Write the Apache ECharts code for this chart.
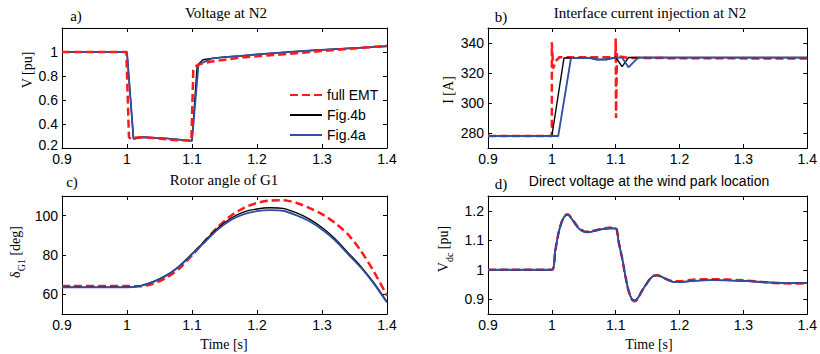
<!DOCTYPE html>
<html><head><meta charset="utf-8">
<script src="https://cdn.jsdelivr.net/npm/echarts@6/dist/echarts.min.js"></script>
<style>html,body{margin:0;padding:0;background:#fff}#c{width:820px;height:354px}</style>
</head><body><div id="c"></div>
<script>
// ---------- DATA ----------
var xTicks = [0.9, 1.0, 1.1, 1.2, 1.3, 1.4];

// a) Voltage at N2 [pu]
var aTimeRed   = [0.9, 0.999, 1.003, 1.006, 1.01, 1.02, 1.04, 1.06, 1.08, 1.099, 1.102, 1.106, 1.11, 1.12, 1.13, 1.15, 1.175, 1.2, 1.25, 1.29, 1.35, 1.4];
var aRed       = [1.0, 1.0, 0.29, 0.275, 0.285, 0.29, 0.283, 0.272, 0.265, 0.26, 0.85, 0.88, 0.895, 0.91, 0.92, 0.935, 0.954, 0.965, 0.985, 1.004, 1.03, 1.052];
var aTimeBlack = [0.9, 1.0, 1.01, 1.025, 1.06, 1.1, 1.108, 1.117, 1.13, 1.15, 1.175, 1.2, 1.25, 1.29, 1.35, 1.4];
var aBlack     = [1.0, 1.0, 0.276, 0.29, 0.28, 0.26, 0.89, 0.935, 0.947, 0.958, 0.967, 0.98, 1.0, 1.015, 1.033, 1.048];
var aTimeBlue  = [0.9, 1.0, 1.01, 1.025, 1.06, 1.1, 1.11, 1.12, 1.13, 1.15, 1.175, 1.2, 1.25, 1.29, 1.35, 1.4];
var aBlue      = [1.0, 1.0, 0.276, 0.29, 0.28, 0.26, 0.895, 0.92, 0.945, 0.958, 0.967, 0.98, 1.0, 1.015, 1.033, 1.048];
var aYTicks = [0.2, 0.4, 0.6, 0.8, 1.0];

// b) Interface current injection at N2 [A]
var bTimeRed   = [0.9, 1.0, 1.0, 1.002, 1.006, 1.012, 1.05, 1.0995, 1.1, 1.1005, 1.102, 1.105, 1.12, 1.4];
var bRed       = [278, 278, 340.5, 323, 328, 330.5, 330.5, 330.5, 343, 290, 333, 331, 330, 329.6];
var bTimeBlack = [0.9, 1.0, 1.019, 1.06, 1.07, 1.085, 1.1, 1.11, 1.12, 1.4];
var bBlack     = [278, 278, 330, 330, 329, 329, 330.5, 324.3, 330.3, 330.3];
var bTimeBlue  = [0.9, 1.01, 1.03, 1.06, 1.07, 1.085, 1.1, 1.11, 1.12, 1.135, 1.4];
var bBlue      = [278, 278, 330, 330, 329, 329, 330.3, 330.3, 323.8, 330.3, 330.3];
var bYTicks = [280, 300, 320, 340];

// c) Rotor angle of G1 [deg]
var cTime  = [0.9, 1.0, 1.02, 1.04, 1.06, 1.08, 1.1, 1.12, 1.14, 1.16, 1.18, 1.2, 1.22, 1.24, 1.26, 1.28, 1.3, 1.32, 1.34, 1.36, 1.38, 1.4];
var cRed   = [64.2, 64.2, 64.1, 65.3, 68.3, 73.0, 79.8, 87.2, 94.3, 100.0, 104.0, 106.5, 107.7, 107.8, 106.6, 104.0, 100.8, 96.3, 90.5, 82.0, 71.5, 59.3];
var cBlack = [63.6, 63.6, 64.3, 66.4, 69.6, 74.3, 80.6, 87.2, 93.7, 98.7, 101.9, 103.4, 104.0, 103.7, 101.5, 98.4, 94.0, 88.3, 81.2, 74.1, 65.8, 56.2];
var cBlue  = [63.5, 63.5, 64.2, 66.2, 69.3, 74.0, 80.3, 86.7, 93.0, 97.8, 100.8, 102.3, 102.8, 102.5, 100.3, 97.3, 93.0, 87.5, 80.5, 73.5, 65.3, 55.8];
var cYTicks = [60, 80, 100];

// d) Direct voltage at the wind park location [pu]
var dTime  = [0.9, 1.0, 1.005, 1.01, 1.015, 1.02, 1.025, 1.03, 1.035, 1.04, 1.045, 1.05, 1.055, 1.06, 1.07, 1.08, 1.09, 1.1, 1.105, 1.11, 1.115, 1.12, 1.125, 1.13, 1.135, 1.14, 1.15, 1.155, 1.16, 1.165, 1.17, 1.18, 1.19, 1.2, 1.22, 1.25, 1.3, 1.35, 1.4];
var dRed   = [1.0, 1.0, 1.06, 1.12, 1.16, 1.182, 1.188, 1.178, 1.162, 1.147, 1.137, 1.131, 1.129, 1.13, 1.135, 1.14, 1.142, 1.142, 1.09, 1.04, 0.98, 0.93, 0.9, 0.893, 0.903, 0.924, 0.958, 0.972, 0.98, 0.981, 0.978, 0.968, 0.961, 0.961, 0.966, 0.968, 0.964, 0.955, 0.953];
var dBlack = [1.0, 1.0, 1.06, 1.12, 1.16, 1.181, 1.186, 1.176, 1.16, 1.145, 1.135, 1.129, 1.127, 1.128, 1.133, 1.138, 1.14, 1.14, 1.09, 1.04, 0.98, 0.93, 0.902, 0.896, 0.905, 0.925, 0.958, 0.972, 0.98, 0.981, 0.978, 0.967, 0.959, 0.958, 0.962, 0.965, 0.962, 0.956, 0.955];
var dBlue  = [1.0, 1.0, 1.06, 1.12, 1.16, 1.181, 1.186, 1.176, 1.16, 1.145, 1.135, 1.129, 1.127, 1.128, 1.133, 1.138, 1.14, 1.14, 1.09, 1.04, 0.98, 0.93, 0.902, 0.896, 0.905, 0.925, 0.958, 0.972, 0.98, 0.981, 0.978, 0.967, 0.959, 0.958, 0.962, 0.965, 0.962, 0.956, 0.955];
var dYTicks = [0.9, 1.0, 1.1, 1.2];

var seriesNames = ['full EMT', 'Fig.4b', 'Fig.4a'];
// ---------- END DATA ----------

function pairs(t, v) { return t.map(function (x, i) { return [x, v[i]]; }); }
function fmt(v) { return String(parseFloat(Number(v).toFixed(3))); }

var RED = '#ff1a1a', BLACK = '#000000', BLUE = '#2f4fa3';
var SANS = '"Liberation Sans", Arial, sans-serif';
var SERIF = '"Liberation Serif", "Times New Roman", serif';

var grids = [
  {left: 62, top: 28, width: 325, height: 120},
  {left: 488, top: 28, width: 323, height: 120},
  {left: 62, top: 196, width: 325, height: 118},
  {left: 488, top: 196, width: 323, height: 118}
];
var yRanges = [[0.2, 1.2, aYTicks], [270, 350, bYTicks], [50, 110, cYTicks], [0.85, 1.25, dYTicks]];

var xAxes = [], yAxes = [];
grids.forEach(function (g, i) {
  var line = {show: true, lineStyle: {color: '#000', width: 1}};
  xAxes.push({type: 'value', gridIndex: i, position: 'bottom', min: 0.9, max: 1.4,
    axisLine: line, splitLine: {show: false},
    axisTick: {inside: true, length: 4, customValues: xTicks, lineStyle: {color: '#000'}},
    axisLabel: {customValues: xTicks, formatter: fmt, color: '#000', fontFamily: SANS, fontSize: 14, margin: 4}});
  xAxes.push({type: 'value', gridIndex: i, position: 'top', min: 0.9, max: 1.4,
    axisLine: line, splitLine: {show: false},
    axisTick: {inside: true, length: 4, customValues: xTicks, lineStyle: {color: '#000'}},
    axisLabel: {show: false}});
  var r = yRanges[i];
  var lowest = r[2][0];
  yAxes.push({type: 'value', gridIndex: i, position: 'left', min: r[0], max: r[1],
    axisLine: line, splitLine: {show: false},
    axisTick: {inside: true, length: 4, customValues: r[2], lineStyle: {color: '#000'}},
    axisLabel: {customValues: r[2], color: '#000', fontFamily: SANS, fontSize: 14, margin: 4,
      formatter: function (v) {
        // the bottom label of panel a sits against the first x label; lift it a little
        return (i === 0 && Math.abs(v - lowest) < 1e-9) ? '{lo|' + fmt(v) + '}' : fmt(v);
      },
      rich: {lo: {fontFamily: SANS, fontSize: 14, color: '#000', padding: [0, 0, 6, 0]}}}});
  yAxes.push({type: 'value', gridIndex: i, position: 'right', min: r[0], max: r[1],
    axisLine: line, splitLine: {show: false},
    axisTick: {inside: true, length: 4, customValues: r[2], lineStyle: {color: '#000'}},
    axisLabel: {show: false}});
});

function mk(name, data, gi, z) {
  var st = name === seriesNames[0] ? {color: RED, width: 2.5, type: [8, 4]}
         : name === seriesNames[1] ? {color: BLACK, width: 1.4}
         : {color: BLUE, width: 1.8};
  return {type: 'line', name: name, data: data, xAxisIndex: gi * 2, yAxisIndex: gi * 2,
    showSymbol: false, symbol: 'none', legendIcon: 'none', lineStyle: st, itemStyle: {color: st.color}, z: z, animation: false};
}

var series = [
  mk(seriesNames[1], pairs(aTimeBlack, aBlack), 0, 2),
  mk(seriesNames[2], pairs(aTimeBlue, aBlue), 0, 3),
  mk(seriesNames[0], pairs(aTimeRed, aRed), 0, 4),
  mk(seriesNames[0], pairs(bTimeRed, bRed), 1, 2),
  mk(seriesNames[1], pairs(bTimeBlack, bBlack), 1, 3),
  mk(seriesNames[2], pairs(bTimeBlue, bBlue), 1, 4),
  mk(seriesNames[0], pairs(cTime, cRed), 2, 2),
  mk(seriesNames[1], pairs(cTime, cBlack), 2, 3),
  mk(seriesNames[2], pairs(cTime, cBlue), 2, 4),
  mk(seriesNames[0], pairs(dTime, dRed), 3, 2),
  mk(seriesNames[1], pairs(dTime, dBlack), 3, 3),
  mk(seriesNames[2], pairs(dTime, dBlue), 3, 4)
];
series.forEach(function (s) { if (s.xAxisIndex >= 4) { s.smooth = 0.25; } });

function txt(text, x, y, font, rot, rich) {
  var el = {type: 'text', x: x, y: y, silent: true,
    style: {text: text, font: font, fill: '#000', align: 'center', verticalAlign: 'middle'}};
  if (rot) el.rotation = Math.PI / 2;
  if (rich) el.style.rich = rich;
  return el;
}
var subRich = {
  a: {fontFamily: SERIF, fontSize: 14, lineHeight: 18, verticalAlign: 'top', fill: '#000'},
  s: {fontFamily: SERIF, fontSize: 10, lineHeight: 10, verticalAlign: 'bottom', fill: '#000'}
};

var graphics = [
  txt('a)', 76, 16, '15px ' + SERIF),
  txt('Voltage at N2', 226, 13, '15px ' + SERIF),
  txt('b)', 501, 17, '15px ' + SERIF),
  txt('Interface current injection at N2', 650, 13, '15px ' + SERIF),
  txt('c)', 72, 182, '15px ' + SERIF),
  txt('Rotor angle of G1', 224, 180, '15px ' + SERIF),
  txt('d)', 501, 184, '15px ' + SERIF),
  txt('Direct voltage at the wind park location', 649, 181, '14px ' + SANS),
  txt('V [pu]', 27, 70, '14px ' + SERIF, true),
  txt('I [A]', 448, 90, '14px ' + SERIF, true),
  txt('{a|δ}{s|G1}{a| [deg]}', 17, 252, '14px ' + SERIF, true, subRich),
  txt('{a|V}{s|dc}{a| [pu]}', 445, 249, '14px ' + SERIF, true, subRich),
  txt('Time [s]', 224, 344, '14px ' + SERIF),
  txt('Time [s]', 649, 344, '14px ' + SERIF)
];

var chart = echarts.init(document.getElementById('c'), null, {renderer: 'svg', width: 820, height: 354});
chart.setOption({
  animation: false,
  backgroundColor: '#fff',
  grid: grids,
  xAxis: xAxes,
  yAxis: yAxes,
  legend: {data: seriesNames, orient: 'vertical', left: 284, top: 83, itemWidth: 32, itemHeight: 10, itemGap: 6,
    selectedMode: false, itemStyle: {opacity: 0}, textStyle: {fontFamily: SANS, fontSize: 14, color: '#000'}},
  graphic: graphics,
  series: series
});
</script></body></html>
